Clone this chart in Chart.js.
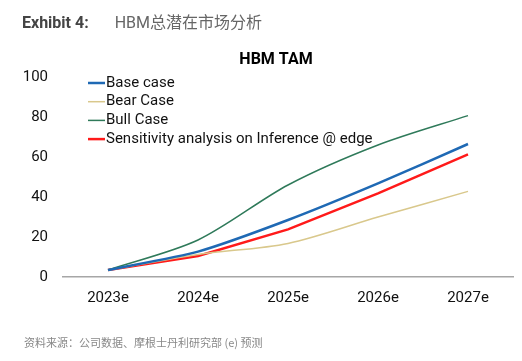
<!DOCTYPE html>
<html lang="en">
<head>
<meta charset="UTF-8">
<title>HBM TAM</title>
<script src="https://cdn.jsdelivr.net/npm/chart.js@4.4.5/dist/chart.umd.min.js"></script>
<style>
    body { margin: 0; background: #fff; }
    #wrap { position: relative; width: 522px; height: 361px; }
    #head { position: absolute; left: 22px; top: 9px; font-family: Roboto, "Noto Sans CJK SC", sans-serif; font-size: 16px; color: #666; }
    #head b { color: #444; margin-right: 26px; }
    #foot { position: absolute; left: 24px; top: 334px; font-family: "Noto Sans CJK SC", sans-serif; font-size: 11px; color: #888; }
    canvas { position: absolute; left: 0; top: 0; }
</style>
</head>
<body>
<div id="wrap">
    <canvas id="myChart" width="522" height="361"></canvas>
    <div id="head"><b>Exhibit 4:</b>HBM总潜在市场分析</div>
    <div id="foot">资料来源：公司数据、摩根士丹利研究部 (e) 预测</div>
</div>
<script>
    const years = ['2023e', '2024e', '2025e', '2026e', '2027e'];
    const baseCase = [3.5, 12.7, 28.5, 46.8, 66.5];
    const bearCase = [3.5, 11.3, 16.8, 30, 42.8];
    const bullCase = [3.5, 18.5, 46, 66, 80.7];
    const sensitivity = [3.5, 10.5, 23.8, 41.8, 61.3];
    const yTicks = [0, 20, 40, 60, 80, 100];

    const fontFam = '"Liberation Sans Narrow", Roboto, sans-serif';

    // legend drawn inside the plot, top-left
    const legendInside = {
        id: 'legendInside',
        afterDraw: function (chart) {
            const ctx = chart.ctx;
            ctx.save();
            ctx.font = '15px ' + fontFam;
            ctx.textBaseline = 'middle';
            chart.data.datasets.forEach(function (ds, i) {
                const y = 83 + i * 18.7;
                ctx.strokeStyle = ds.borderColor;
                ctx.lineWidth = ds.borderWidth;
                ctx.beginPath();
                ctx.moveTo(88, y);
                ctx.lineTo(105, y);
                ctx.stroke();
                ctx.fillStyle = '#111';
                ctx.fillText(ds.label, 106, y);
            });
            ctx.restore();
        }
    };

    const ctx = document.getElementById('myChart').getContext('2d');
    const myChart = new Chart(ctx, {
        type: 'line',
        data: {
            labels: years,
            datasets: [{
                label: 'Base case',
                data: baseCase,
                borderColor: '#1f69b4',
                borderWidth: 2.5,
                tension: 0.2
            }, {
                label: 'Bear Case',
                data: bearCase,
                borderColor: '#d9c88c',
                borderWidth: 1.5,
                tension: 0.3
            }, {
                label: 'Bull Case',
                data: bullCase,
                borderColor: '#2f7a5a',
                borderWidth: 1.5,
                tension: 0.3
            }, {
                label: 'Sensitivity analysis on Inference @ edge',
                data: sensitivity,
                borderColor: '#ff1a1a',
                borderWidth: 2.5,
                tension: 0
            }]
        },
        options: {
            responsive: false,
            animation: false,
            elements: { point: { radius: 0 } },
            layout: { padding: { left: 0, right: 9, top: 77, bottom: 50 } },
            scales: {
                x: {
                    offset: true,
                    grid: { display: false, drawTicks: false },
                    border: { color: '#a6a6a6', width: 1.5 },
                    ticks: { color: '#111', font: { family: fontFam, size: 15 }, padding: 12 },
                    afterFit: function (s) { s.height = 34; }
                },
                y: {
                    min: 0,
                    max: 100,
                    grid: { display: false, drawTicks: false },
                    border: { display: false },
                    afterBuildTicks: function (s) { s.ticks = yTicks.map(v => ({ value: v })); },
                    ticks: { color: '#111', font: { family: fontFam, size: 15 }, padding: 15 },
                    afterFit: function (s) { s.width = 63; }
                }
            },
            plugins: {
                legend: { display: false },
                tooltip: { enabled: false },
                title: { display: false }
            }
        },
        plugins: [legendInside, {
            id: 'chartTitle',
            afterDraw: function (chart) {
                const c = chart.ctx;
                c.save();
                c.font = 'bold 16px ' + fontFam;
                c.fillStyle = '#000';
                c.textAlign = 'center';
                c.textBaseline = 'middle';
                c.fillText('HBM TAM', 276, 60);
                c.restore();
            }
        }]
    });
</script>
</body>
</html>
